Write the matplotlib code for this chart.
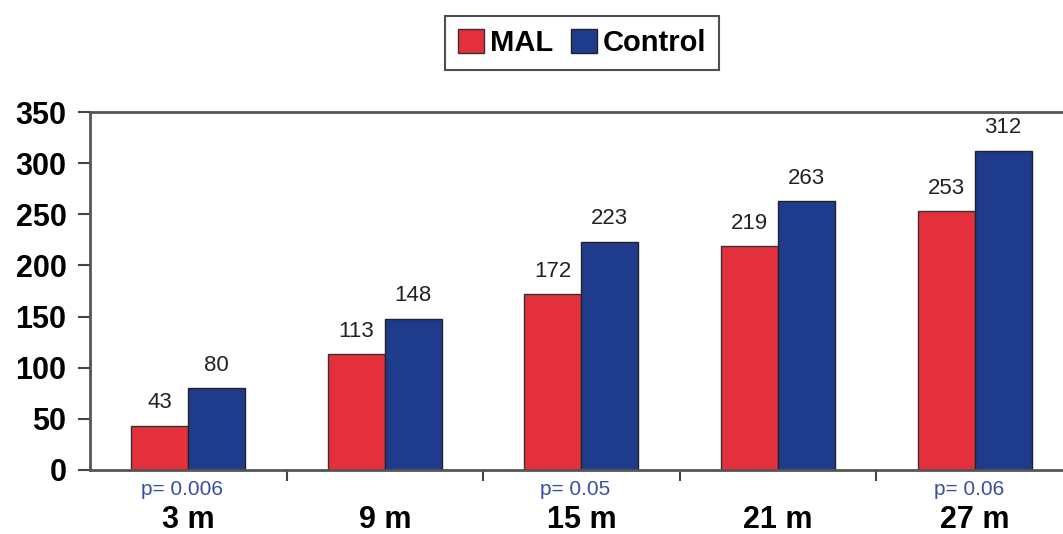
import matplotlib.pyplot as plt
from matplotlib.patches import Patch
import numpy as np

plt.rcParams['font.family'] = ['Liberation Sans', 'DejaVu Sans']

months = ['3 m', '9 m', '15 m', '21 m', '27 m']
mal = [43, 113, 172, 219, 253]
control = [80, 148, 223, 263, 312]
p_values = ['p= 0.006', '', 'p= 0.05', '', 'p= 0.06']

red = '#e3303c'
blue = '#1f3b8c'

fig = plt.figure(figsize=(10.63, 5.34), dpi=100)
ax = fig.add_axes([0.0847, 0.12, 0.9153, 0.67])

x = np.arange(len(months))
w = 0.29
b1 = ax.bar(x - w / 2, mal, w, color=red, edgecolor='#333333', linewidth=1)
b2 = ax.bar(x + w / 2, control, w, color=blue, edgecolor='#222222', linewidth=1)

for bars, vals in ((b1, mal), (b2, control)):
    for rect, v in zip(bars, vals):
        ax.annotate(str(v), (rect.get_x() + rect.get_width() / 2, v),
                    xytext=(0, 9), textcoords='offset points',
                    ha='center', va='bottom', fontsize=16, color='#222222')

ax.set_xlim(-0.5, 4.45)
ax.set_ylim(0, 350)
ax.set_yticks(range(0, 351, 50))
ax.tick_params(axis='y', direction='out', length=9, width=1.5, pad=8,
               labelsize=22, color='#444444')
for lab in ax.get_yticklabels():
    lab.set_fontweight('bold')

ax.set_xticks(x)
ax.set_xticklabels(months, fontsize=22, fontweight='bold')
ax.tick_params(axis='x', which='major', length=0, pad=25)
ax.set_xticks(x[:-1] + 0.5, minor=True)
ax.tick_params(axis='x', which='minor', direction='out', length=8, width=1.5,
               color='#444444')

for xi, p in zip(x, p_values):
    if p:
        ax.text(xi - 0.03, -0.055, p, transform=ax.get_xaxis_transform(),
                ha='center', va='center', fontsize=15, color='#3a4fa0')

for side in ('left', 'top', 'bottom'):
    ax.spines[side].set_color('#555555')
    ax.spines[side].set_linewidth(2)
ax.spines['right'].set_visible(False)

handles = [Patch(facecolor=red, edgecolor='#333333'),
           Patch(facecolor=blue, edgecolor='#222222')]
leg = fig.legend(handles, ['MAL', 'Control'], loc='center',
                 bbox_to_anchor=(0.5475, 0.919), ncol=2, frameon=True,
                 fancybox=False, handlelength=0.9, handleheight=0.9,
                 handletextpad=0.2, columnspacing=0.6, borderpad=0.45,
                 prop={'weight': 'bold', 'size': 21})
leg.get_frame().set_edgecolor('#222222')
leg.get_frame().set_linewidth(1.5)

fig.savefig('out.png', dpi=100)
